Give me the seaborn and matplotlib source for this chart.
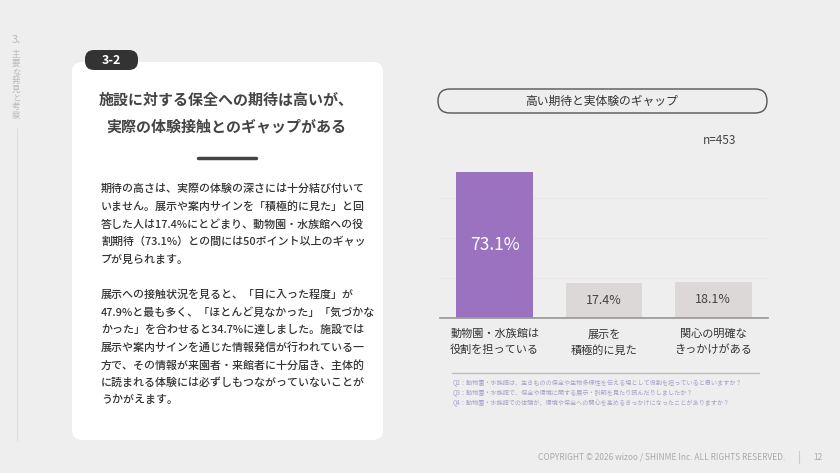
import matplotlib
matplotlib.use("Agg")
import matplotlib.pyplot as plt
import seaborn as sns
import pandas as pd
from matplotlib.patches import FancyBboxPatch

sns.set_theme(style="white")
plt.rcParams['font.family'] = ['Noto Sans CJK JP', 'DejaVu Sans']

categories = ["動物園・水族館は\n役割を担っている", "展示を\n積極的に見た", "関心の明確な\nきっかけがある"]
values = [73.1, 17.4, 18.1]
bar_colors = ["#9b72c0", "#dcd8d8", "#dcd8d8"]
label_colors = ["#ffffff", "#444444", "#444444"]
notes = [
    "Q2：動物園・水族館は、生きものの保全や生物多様性を伝える場として役割を担っていると思いますか？",
    "Q3：動物園・水族館で、保全や環境に関する展示・説明を見たり読んだりしましたか？",
    "Q4：動物園・水族館での体験が、環境や保全への関心を高めるきっかけになったことがありますか？",
]
body = [
    "期待の高さは、実際の体験の深さには十分結び付いて",
    "いません。展示や案内サインを「積極的に見た」と回",
    "答した人は17.4%にとどまり、動物園・水族館への役",
    "割期待（73.1%）との間には50ポイント以上のギャッ",
    "プが見られます。",
    "",
    "展示への接触状況を見ると、「目に入った程度」が",
    "47.9%と最も多く、「ほとんど見なかった」「気づかな",
    "かった」を合わせると34.7%に達しました。施設では",
    "展示や案内サインを通じた情報発信が行われている一",
    "方で、その情報が来園者・来館者に十分届き、主体的",
    "に読まれる体験には必ずしもつながっていないことが",
    "うかがえます。",
]

W, H = 840, 473
fig = plt.figure(figsize=(8.4, 4.73), dpi=100)
fig.patch.set_facecolor("#efeeee")
bg = fig.add_axes([0, 0, 1, 1])
bg.set_xlim(0, W); bg.set_ylim(H, 0); bg.axis("off")

# sidebar
bg.text(12, 40, "3.", fontsize=8, color="#bbbbbb", va="center")
for i, ch in enumerate("主要な発見と考察"):
    bg.text(16, 55 + i * 8.6, ch, fontsize=6, color="#bbbbbb", va="center", ha="center")
bg.plot([17, 17], [128, 440], color="#dddddd", lw=0.8)

# card
bg.add_patch(FancyBboxPatch((72, 62), 311, 378, boxstyle="round,pad=0,rounding_size=10",
                            fc="white", ec="none"))
bg.add_patch(FancyBboxPatch((85, 50), 53, 20, boxstyle="round,pad=0,rounding_size=9",
                            fc="#333333", ec="none"))
bg.text(111.5, 60, "3-2", color="white", fontsize=9, ha="center", va="center", fontweight="bold")
bg.text(226, 100, "施設に対する保全への期待は高いが、", fontsize=10.8, ha="center", va="center",
        fontweight="bold", color="#444444")
bg.text(226, 126, "実際の体験接触とのギャップがある", fontsize=10.8, ha="center", va="center",
        fontweight="bold", color="#444444")
bg.plot([198, 256], [158, 158], color="#444444", lw=2.5)
for i, line in enumerate(body):
    bg.text(101, 189 + i * 17.6, line, fontsize=7.9, va="center", color="#333333", fontweight="medium")

# chart header
bg.add_patch(FancyBboxPatch((438, 89), 329, 24, boxstyle="round,pad=0,rounding_size=12",
                            fc="none", ec="#555555", lw=1))
bg.text(602, 101, "高い期待と実体験のギャップ", fontsize=8.5, ha="center", va="center", color="#333333")
bg.text(720, 140, "n=453", fontsize=8.5, ha="center", va="center", color="#444444")

# notes
bg.plot([452, 759], [373, 373], color="#bbbbbb", lw=1)
for i, n in enumerate(notes):
    bg.text(453, 383 + i * 10, n, fontsize=4.4, va="center", color="#a9a0c8")
bg.text(662, 457, "COPYRIGHT © 2026 wizoo / SHINME Inc. ALL RIGHTS RESERVED.", fontsize=6,
        ha="center", va="center", color="#aaaaaa")
bg.plot([799, 799], [451, 463], color="#cccccc", lw=0.8)
bg.text(818, 457, "12", fontsize=6, ha="center", va="center", color="#aaaaaa")

# bar chart: axes x 440..768, y 158..318 (0..80)
ax = fig.add_axes([440 / W, 1 - 318 / H, 328 / W, 160 / H])
ax.set_facecolor("none")
df = pd.DataFrame({"cat": categories, "val": values})
sns.barplot(data=df, x="cat", y="val", hue="cat", palette=bar_colors, legend=False,
            width=0.7, ax=ax, saturation=1, linewidth=0)
ax.set_ylim(0, 80)
ax.set_xlim(-0.5, 2.5)
for y in [20, 40, 60]:
    ax.axhline(y, color="#e6e4e4", lw=0.6, zorder=0)
for s in ["top", "right", "left"]:
    ax.spines[s].set_visible(False)
ax.spines["bottom"].set_color("#999999")
ax.set_yticks([])
ax.set_xlabel(""); ax.set_ylabel("")
ax.tick_params(axis="x", length=0, pad=8, labelsize=8, labelcolor="#333333")
ax.set_xticks(range(3))
ax.set_xticklabels(categories, linespacing=1.6)
for i, v in enumerate(values):
    fs = 12.5 if v > 40 else 9
    ax.text(i, v / 2, f"{v}%", ha="center", va="center", color=label_colors[i], fontsize=fs)

fig.savefig("out.png", dpi=100, facecolor=fig.get_facecolor())
